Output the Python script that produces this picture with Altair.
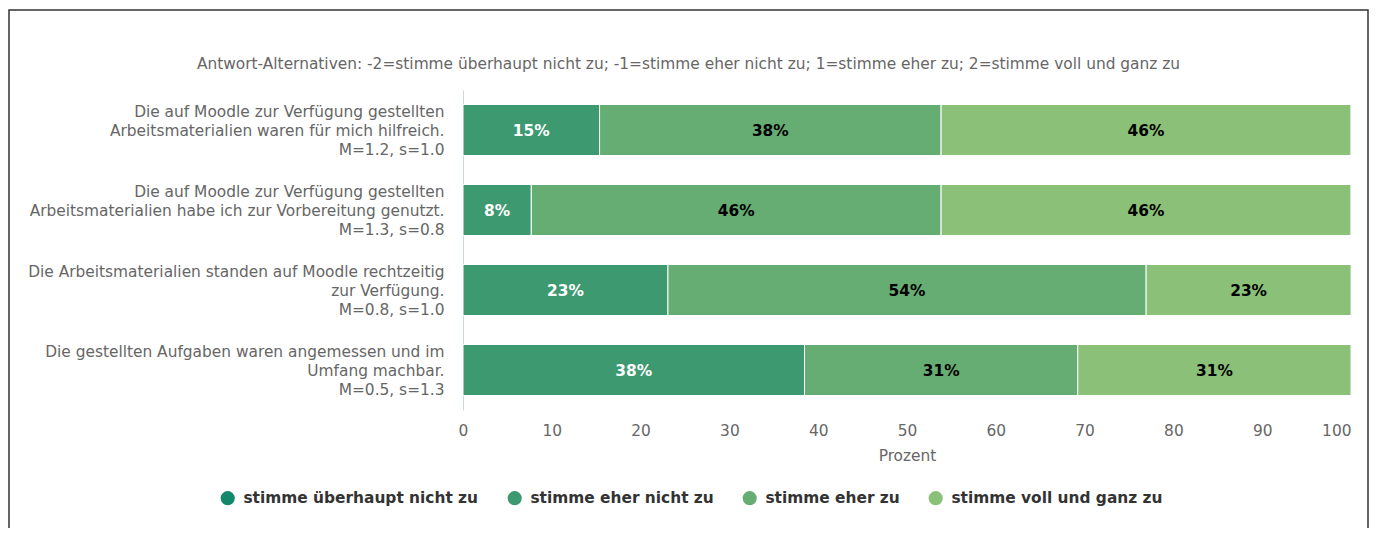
import altair as alt
import pandas as pd

# ---- data (13 respondents) ----
questions = [
    "Die auf Moodle zur Verfügung gestellten|Arbeitsmaterialien waren für mich hilfreich.|M=1.2, s=1.0",
    "Die auf Moodle zur Verfügung gestellten|Arbeitsmaterialien habe ich zur Vorbereitung genutzt.|M=1.3, s=0.8",
    "Die Arbeitsmaterialien standen auf Moodle rechtzeitig|zur Verfügung.|M=0.8, s=1.0",
    "Die gestellten Aufgaben waren angemessen und im|Umfang machbar.|M=0.5, s=1.3",
]
answers = [
    "stimme überhaupt nicht zu",
    "stimme eher nicht zu",
    "stimme eher zu",
    "stimme voll und ganz zu",
]
colors = ["#11876b", "#3d9970", "#65ad72", "#8bc078"]

eher_nicht = [15.38, 7.69, 23.08, 38.46]
eher_zu = [38.46, 46.15, 53.85, 30.77]
voll = [46.15, 46.15, 23.08, 30.77]

title_text = ("Antwort-Alternativen: -2=stimme überhaupt nicht zu; -1=stimme eher nicht zu; "
              "1=stimme eher zu; 2=stimme voll und ganz zu")

rows = []
for i, q in enumerate(questions):
    for k, (a, vals) in enumerate(zip(answers[1:], [eher_nicht, eher_zu, voll])):
        v = vals[i]
        rows.append({"question": q, "answer": a, "order": k, "value": v,
                     "label": f"{round(v)}%"})
df = pd.DataFrame(rows)

FS = 15.4
W, H = 888, 320
PAD = {"left": 455, "top": 82, "right": 18, "bottom": 118}

base = alt.Chart(df).transform_stack(
    stack="value", groupby=["question"], as_=["x0", "x1"],
    sort=[alt.SortField("order", order="ascending")],
).transform_calculate(xm="(datum.x0 + datum.x1) / 2")

y_enc = alt.Y(
    "question:N", sort=questions,
    scale=alt.Scale(paddingInner=0.3625, paddingOuter=0.18125),
    axis=alt.Axis(title=None, labelExpr="split(datum.label, '|')", labelLineHeight=19,
                  labelFontSize=FS, labelColor="#666666", labelPadding=19, ticks=False,
                  tickSize=0, domainColor="#ccd6eb", labelLimit=600, labelAlign="right",
                  labelOffset=-18),
)

x_axis = alt.Axis(
    title="Prozent", values=list(range(0, 101, 10)), grid=False, domain=False,
    ticks=False, tickSize=0, labelColor="#666666", labelFontSize=FS,
    titleColor="#666666", titleFontSize=FS, titleFontWeight="normal",
    labelFlush=False, labelPadding=13, titlePadding=10,
    labelAlign={"condition": {"test": "datum.value === 100", "value": "right"}, "value": "center"},
)

bars = base.mark_bar(stroke="white", strokeWidth=1).encode(
    y=y_enc,
    x=alt.X("x0:Q", scale=alt.Scale(domain=[0, 100], nice=False), axis=x_axis),
    x2="x1:Q",
    color=alt.Color(
        "answer:N",
        scale=alt.Scale(domain=answers, range=colors),
        legend=alt.Legend(
            title=None, orient="none", legendX=-243, legendY=400, direction="horizontal",
            symbolType="circle", symbolSize=200, symbolStrokeWidth=0, symbolOpacity=1,
            labelFontSize=FS, labelFontWeight="bold", labelColor="#333333",
            labelOffset=8, columnPadding=28, columns=4, labelLimit=0,
        ),
    ),
)

texts = base.mark_text(fontSize=FS, fontWeight="bold", dy=1).encode(
    y=alt.Y("question:N", sort=questions),
    x=alt.X("xm:Q"),
    text="label:N",
    color=alt.condition(alt.datum.answer == "stimme eher nicht zu",
                        alt.value("white"), alt.value("black")),
)

frame = alt.Chart(pd.DataFrame({"f": [0]})).mark_rect(
    fill="transparent", stroke="#333333", strokeWidth=1.5
).encode(
    x=alt.value(-454), x2=alt.value(905), y=alt.value(-80), y2=alt.value(600)
)

chart = alt.layer(frame, bars, texts).properties(
    width=W, height=H,
    autosize=alt.AutoSizeParams(type="none"),
    padding=PAD,
    title=alt.TitleParams(title_text, fontSize=FS, color="#666666", fontWeight="normal",
                          frame="bounds", anchor="middle", offset=-75, baseline="alphabetic"),
).configure(font="DejaVu Sans").configure_view(stroke=None)

chart.save("out.html", embed_options={"renderer": "svg", "actions": False})
